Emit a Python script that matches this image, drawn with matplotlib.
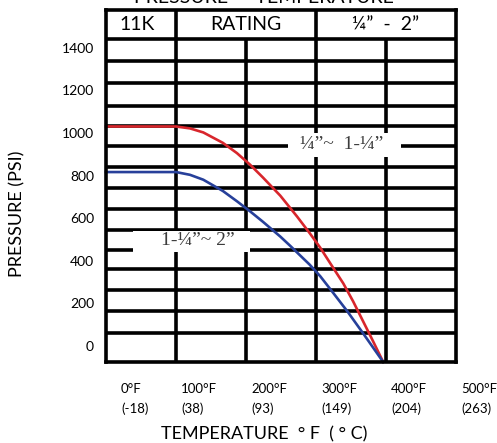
"""Pressure - temperature rating chart, 11K series 1/4" - 2".

Usage:
    python plot.py
"""

import matplotlib
matplotlib.use("Agg")
import matplotlib.pyplot as plt
from matplotlib import transforms
from matplotlib.patches import Rectangle

OUT_FILE = "out.png"

SANS = ["Lato", "DejaVu Sans"]
SERIF = ["Liberation Serif", "DejaVu Serif"]

# axis extent (deg F, psi) as the grid box spans it in the picture
X_MIN, X_MAX = 0, 500
Y_MIN, Y_MAX = -75, 1578
HEADER_BOTTOM = 1442

# grid
GRID_X = [100, 200, 300, 400]
HEADER_X = [100, 300]
GRID_Y = [61, 165, 263, 360, 452, 545, 644, 742, 841, 939, 1033, 1129, 1235, 1339, 1442]

# header cells
HEADER_TEXT = ["11K", "RATING", "\u00bc\u201d  -  2\u201d"]
HEADER_POS = [44, 200, 400]

# ticks
Y_TICKS = [0, 200, 400, 600, 800, 1000, 1200, 1400]
X_TICKS = [0, 100, 200, 300, 400, 500]
X_TICK_F = ["0°F", "100°F", "200°F", "300°F", "400°F", "500°F"]
X_TICK_C = ["(-18)", "(38)", "(93)", "(149)", "(204)", "(263)"]

# 1/4" ~ 1-1/4" curve
SMALL_T = [0, 100, 120, 139, 167, 187, 206, 224, 249, 273, 291, 306, 324, 339, 353, 367, 381, 396]
SMALL_P = [1031, 1031, 1022, 1003, 954, 906, 851, 792, 706, 608, 530, 462, 370, 294, 210, 118, 26, -75]

# 1-1/4" ~ 2" curve
LARGE_T = [0, 100, 120, 139, 167, 187, 206, 224, 249, 263, 291, 306, 324, 345, 367, 396]
LARGE_P = [817, 817, 804, 781, 728, 680, 632, 584, 514, 471, 382, 328, 252, 162, 61, -75]

RED = "#d8262c"
BLUE = "#27409a"
LABEL_GREY = "#3c3c3c"
LW = 2.6


def main() -> None:
    fig = plt.figure(figsize=(4.97, 4.43), dpi=100)
    ax = fig.add_axes([106 / 497, 81 / 443, 350 / 497, 352 / 443])
    ax.set_xlim(X_MIN, X_MAX)
    ax.set_ylim(Y_MIN, Y_MAX)

    for s in ax.spines.values():
        s.set_linewidth(LW)
        s.set_color("black")

    # grid lines
    ax.hlines(GRID_Y, X_MIN, X_MAX, colors="black", linewidth=LW, zorder=1)
    ax.vlines(GRID_X, Y_MIN, HEADER_BOTTOM, colors="black", linewidth=LW, zorder=1)
    ax.vlines(HEADER_X, HEADER_BOTTOM, Y_MAX, colors="black", linewidth=LW, zorder=1)

    for txt, x in zip(HEADER_TEXT, HEADER_POS):
        ax.text(x, (HEADER_BOTTOM + Y_MAX) / 2, txt, ha="center", va="center",
                fontsize=14, family=SANS)

    # curves
    ax.plot(SMALL_T, SMALL_P, color=RED, linewidth=1.9, zorder=2, clip_on=False)
    ax.plot(LARGE_T, LARGE_P, color=BLUE, linewidth=1.9, zorder=2, clip_on=False)

    # curve labels on white patches
    ax.add_patch(Rectangle((260, 887), 161, 113, facecolor="white", edgecolor="none", zorder=3))
    ax.text(336, 925, "\u00bc\u201d~  1-\u00bc\u201d", ha="center", va="baseline",
            fontsize=14, family=SERIF, color=LABEL_GREY, zorder=4)
    ax.add_patch(Rectangle((39, 442), 167, 98, facecolor="white", edgecolor="none", zorder=3))
    ax.text(131, 474, "1-\u00bc\u201d~ 2\u201d", ha="center", va="baseline",
            fontsize=14, family=SERIF, color=LABEL_GREY, zorder=4)

    # y ticks
    ax.set_yticks(Y_TICKS)
    ax.set_yticklabels([str(v) for v in Y_TICKS], fontsize=10, family=SANS)
    ax.tick_params(axis="y", length=0, pad=8.6)
    ax.set_xticks([])

    # x tick labels, two lines, left aligned just right of each grid line
    base = transforms.blended_transform_factory(ax.transData, fig.transFigure)
    for t, f_lab, c_lab in zip(X_TICKS, X_TICK_F, X_TICK_C):
        dx = 15 if t == 0 else 5
        tr = base + transforms.ScaledTranslation(dx / 100, 0, fig.dpi_scale_trans)
        fig.text(t, 1 - 393 / 443, f_lab, transform=tr, ha="left", va="baseline",
                 fontsize=9.5, family=SANS)
        fig.text(t, 1 - 413 / 443, c_lab, transform=tr, ha="left", va="baseline",
                 fontsize=9.5, family=SANS)

    fig.text(264 / 497, 1 - 439 / 443, "TEMPERATURE  \u00b0 F  ( \u00b0 C)",
             ha="center", va="baseline", fontsize=13, family=SANS)
    fig.text(17 / 497, 1 - 214 / 443, "PRESSURE (PSI)", rotation=90,
             ha="center", va="center", fontsize=13, family=SANS)

    # title, mostly cut off by the top edge
    fig.text(264 / 497, 1 - 3 / 443, "PRESSURE  -  TEMPERATURE",
             ha="center", va="baseline", fontsize=14, family=SANS)

    fig.savefig(OUT_FILE, dpi=100)
    plt.close(fig)
    print(f"Saved {OUT_FILE}")


if __name__ == "__main__":
    main()
